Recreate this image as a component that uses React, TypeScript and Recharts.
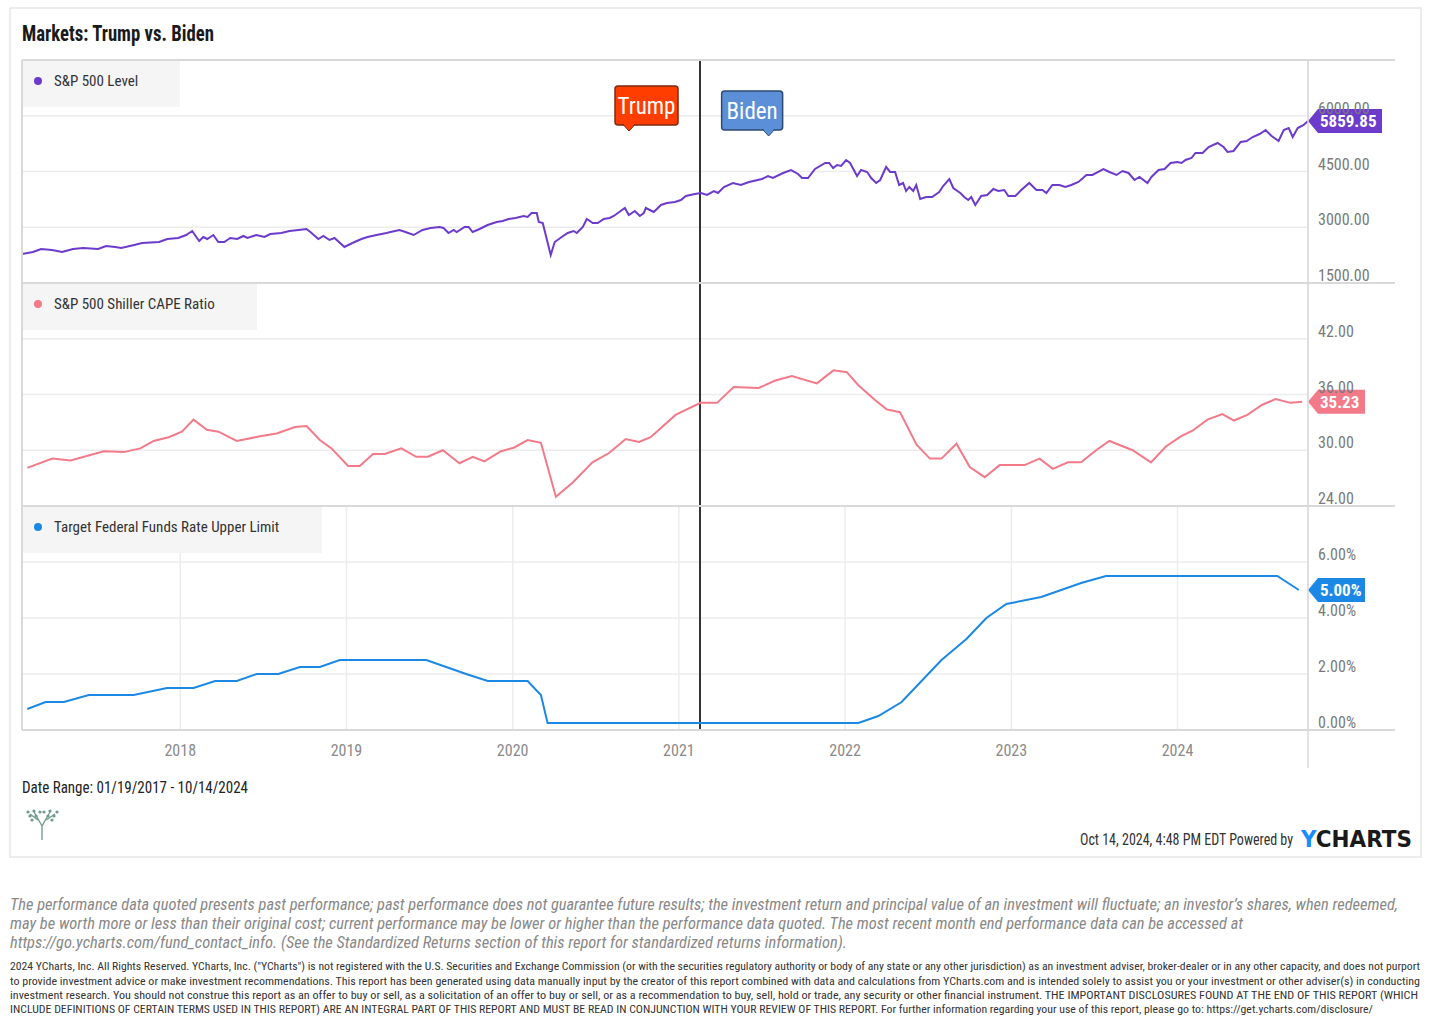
import React from "react";
import { LineChart, Line, XAxis, YAxis, CartesianGrid, ReferenceLine, ReferenceDot } from "recharts";

const FONT = "'Liberation Sans Narrow', 'Roboto Condensed', 'DejaVu Sans Condensed', 'Arial Narrow', sans-serif";

const X_START = 2017.048;
const X_END = 2024.785;
const YEAR_TICKS = [2018, 2019, 2020, 2021, 2022, 2023, 2024];
const BIDEN_DATE = 2021.127;

const SP_DATES = [
  2017.048, 2017.114, 2017.163, 2017.229, 2017.289, 2017.355, 2017.416, 2017.506, 2017.554, 2017.608,
  2017.645, 2017.723, 2017.771, 2017.873, 2017.922, 2017.988, 2018.036, 2018.072, 2018.114, 2018.139,
  2018.163, 2018.199, 2018.229, 2018.265, 2018.301, 2018.343, 2018.38, 2018.404, 2018.458, 2018.506,
  2018.542, 2018.608, 2018.657, 2018.711, 2018.759, 2018.783, 2018.831, 2018.861, 2018.898, 2018.928,
  2018.988, 2019.036, 2019.09, 2019.127, 2019.181, 2019.241, 2019.265, 2019.319, 2019.355, 2019.404,
  2019.458, 2019.506, 2019.56, 2019.584, 2019.614, 2019.645, 2019.663, 2019.711, 2019.735, 2019.759,
  2019.801, 2019.849, 2019.904, 2019.94, 2019.976, 2020.018, 2020.066, 2020.09, 2020.114, 2020.145,
  2020.157, 2020.181, 2020.229, 2020.253, 2020.295, 2020.331, 2020.367, 2020.386, 2020.422, 2020.446,
  2020.482, 2020.512, 2020.548, 2020.584, 2020.608, 2020.675, 2020.699, 2020.735, 2020.765, 2020.789,
  2020.801, 2020.837, 2020.849, 2020.892, 2020.928, 2020.976, 2021.012, 2021.042, 2021.096, 2021.133,
  2021.169, 2021.211, 2021.235, 2021.271, 2021.325, 2021.373, 2021.422, 2021.5, 2021.536, 2021.566,
  2021.627, 2021.675, 2021.717, 2021.741, 2021.777, 2021.819, 2021.88, 2021.904, 2021.928, 2021.952,
  2021.976, 2022.006, 2022.03, 2022.072, 2022.096, 2022.133, 2022.157, 2022.187, 2022.211, 2022.247,
  2022.271, 2022.301, 2022.325, 2022.349, 2022.367, 2022.386, 2022.41, 2022.428, 2022.452, 2022.488,
  2022.524, 2022.566, 2022.59, 2022.627, 2022.651, 2022.693, 2022.717, 2022.741, 2022.759, 2022.783,
  2022.819, 2022.855, 2022.892, 2022.922, 2022.958, 2022.982, 2023.024, 2023.06, 2023.108, 2023.151,
  2023.187, 2023.211, 2023.247, 2023.289, 2023.325, 2023.361, 2023.404, 2023.452, 2023.488, 2023.554,
  2023.59, 2023.633, 2023.669, 2023.705, 2023.741, 2023.771, 2023.819, 2023.843, 2023.886, 2023.922,
  2023.958, 2024.0, 2024.024, 2024.048, 2024.084, 2024.108, 2024.151, 2024.187, 2024.241, 2024.277,
  2024.301, 2024.337, 2024.38, 2024.416, 2024.452, 2024.494, 2024.53, 2024.566, 2024.608, 2024.639,
  2024.669, 2024.693, 2024.723, 2024.759, 2024.785,
];
const SP_VALUES = [
  2280, 2334, 2415, 2388, 2334, 2415, 2442, 2415, 2496, 2469,
  2442, 2522, 2576, 2603, 2684, 2711, 2791, 2899, 2630, 2738,
  2684, 2791, 2603, 2603, 2711, 2684, 2765, 2711, 2791, 2738,
  2818, 2845, 2899, 2926, 2953, 2872, 2684, 2765, 2657, 2711,
  2469, 2576, 2684, 2738, 2791, 2845, 2872, 2926, 2872, 2791,
  2926, 2980, 3007, 2980, 2845, 2926, 2872, 3007, 3007, 2872,
  2953, 3061, 3141, 3168, 3222, 3249, 3303, 3276, 3383, 3383,
  3141, 3114, 2253, 2603, 2738, 2845, 2899, 2845, 3007, 3222,
  3114, 3114, 3222, 3249, 3303, 3518, 3330, 3437, 3303, 3383,
  3518, 3437, 3410, 3599, 3652, 3679, 3733, 3841, 3895, 3922,
  3868, 3975, 3922, 4083, 4191, 4137, 4218, 4298, 4379, 4325,
  4460, 4540, 4433, 4325, 4325, 4567, 4729, 4729, 4594, 4675,
  4648, 4809, 4729, 4379, 4540, 4487, 4325, 4191, 4271, 4621,
  4487, 4487, 4137, 4191, 3975, 4083, 3975, 4137, 3760, 3814,
  3814, 3949, 4110, 4298, 4056, 3922, 3814, 3733, 3814, 3599,
  3841, 3868, 4029, 3975, 4002, 3841, 3841, 4002, 4191, 4002,
  4002, 3922, 4137, 4137, 4083, 4137, 4218, 4406, 4406, 4567,
  4487, 4406, 4513, 4460, 4271, 4352, 4191, 4352, 4540, 4567,
  4729, 4756, 4729, 4809, 4863, 4998, 4998, 5159, 5267, 5159,
  5025, 5052, 5294, 5321, 5428, 5509, 5617, 5455, 5321, 5617,
  5670, 5428, 5670, 5751, 5859.85,
];

const CAPE_DATES = [
  2017.08, 2017.23, 2017.34, 2017.54, 2017.66, 2017.76, 2017.84, 2017.93,
  2018.01, 2018.08, 2018.16, 2018.23, 2018.34, 2018.48, 2018.58, 2018.69, 2018.76, 2018.84, 2018.91,
  2019.01, 2019.08, 2019.16, 2019.23, 2019.33, 2019.42, 2019.49, 2019.58, 2019.68, 2019.76, 2019.83, 2019.93,
  2020.01, 2020.09, 2020.17, 2020.26, 2020.36, 2020.48, 2020.58, 2020.68, 2020.76, 2020.83, 2020.98,
  2021.13, 2021.23, 2021.33, 2021.48, 2021.58, 2021.68, 2021.83, 2021.93,
  2022.01, 2022.08, 2022.18, 2022.25, 2022.33, 2022.43, 2022.51, 2022.58, 2022.67, 2022.75, 2022.84, 2022.93,
  2023.08, 2023.17, 2023.25, 2023.34, 2023.42, 2023.51, 2023.59, 2023.73, 2023.84, 2023.93,
  2024.02, 2024.09, 2024.18, 2024.27, 2024.34, 2024.42, 2024.51, 2024.59, 2024.68, 2024.75,
];
const CAPE_VALUES = [
  28.1, 29.1, 28.9, 29.9, 29.8, 30.2, 31.0, 31.4,
  32.0, 33.3, 32.2, 32.0, 31.0, 31.5, 31.8, 32.5, 32.6, 31.1, 30.2,
  28.3, 28.3, 29.6, 29.6, 30.2, 29.3, 29.3, 30.0, 28.6, 29.3, 28.8, 29.9,
  30.3, 31.1, 30.8, 25.0, 26.5, 28.7, 29.7, 31.2, 30.9, 31.4, 33.8,
  35.1, 35.1, 36.8, 36.7, 37.5, 38.0, 37.2, 38.6,
  38.4, 37.0, 35.4, 34.4, 34.1, 30.6, 29.1, 29.1, 30.7, 28.2, 27.1, 28.4,
  28.4, 29.1, 28.0, 28.7, 28.7, 30.0, 31.0, 30.0, 28.7, 30.4,
  31.5, 32.1, 33.3, 33.9, 33.2, 33.8, 34.9, 35.5, 35.1, 35.23,
];

const FED_DATES = [
  2017.08, 2017.19, 2017.3, 2017.45, 2017.72, 2017.92, 2018.08, 2018.21, 2018.34, 2018.46,
  2018.59, 2018.72, 2018.84, 2018.96, 2019.48, 2019.6, 2019.72, 2019.85, 2020.09, 2020.17,
  2020.21, 2022.08, 2022.2, 2022.34, 2022.46, 2022.58, 2022.73, 2022.85, 2022.97, 2023.18,
  2023.3, 2023.42, 2023.57, 2024.6, 2024.73,
];
const FED_VALUES = [
  0.75, 1.0, 1.0, 1.25, 1.25, 1.5, 1.5, 1.75, 1.75, 2.0,
  2.0, 2.25, 2.25, 2.5, 2.5, 2.25, 2.0, 1.75, 1.75, 1.25,
  0.25, 0.25, 0.5, 1.0, 1.75, 2.5, 3.25, 4.0, 4.5, 4.75,
  5.0, 5.25, 5.5, 5.5, 5.0,
];

const SP_TICKS = [1500, 3000, 4500, 6000];
const CAPE_TICKS = [24, 30, 36, 42];
const FED_TICKS = [0, 2, 4, 6];

const spData = SP_DATES.map((t, i) => ({ t, v: SP_VALUES[i] }));
const capeData = CAPE_DATES.map((t, i) => ({ t, v: CAPE_VALUES[i] }));
const fedData = FED_DATES.map((t, i) => ({ t, v: FED_VALUES[i] }));

const PURPLE = "#6c3bcc";
const PINK = "#f27a89";
const BLUE = "#1c88e6";
const GRID = "#ececec";
const BORDER = "#d9d9d9";

const makeTick = (fmt: (v: number) => string) => (props: any) => (
  <text x={props.x} y={props.y - 2} fill="#7a7a7a" fontSize={16} fontFamily={FONT} textAnchor="start">
    {fmt(props.payload.value)}
  </text>
);

const Tag = (props: any) => {
  const { cx, cy, text, w, fill } = props;
  return (
    <g>
      <polygon
        points={`${cx},${cy} ${cx + 10},${cy - 12} ${cx + w},${cy - 12} ${cx + w},${cy + 12} ${cx + 10},${cy + 12}`}
        fill={fill}
      />
      <text x={cx + 12} y={cy + 6} fill="#fff" fontSize={17} fontWeight="bold" fontFamily={FONT}>
        {text}
      </text>
    </g>
  );
};

const Callout = (props: any) => {
  const { cx, cy, text, left, width, fill, stroke } = props;
  const x0 = cx - left;
  const top = cy - 45;
  const h = 39;
  return (
    <g>
      <rect x={x0} y={top} width={width} height={h} rx={3} fill={fill} stroke={stroke} strokeWidth={1.5} />
      <polygon points={`${cx - 6},${top + h - 0.5} ${cx + 6},${top + h - 0.5} ${cx},${cy}`} fill={fill} stroke={stroke} strokeWidth={1} />
      <rect x={cx - 5} y={top + h - 3} width={10} height={3} fill={fill} />
      <text x={x0 + width / 2} y={top + 28} fill="#fff" fontSize={23} fontFamily={FONT} textAnchor="middle">
        {text}
      </text>
    </g>
  );
};

const xAxisHidden = (
  <XAxis
    type="number"
    dataKey="t"
    domain={[X_START, X_END]}
    ticks={YEAR_TICKS}
    allowDataOverflow
    height={0}
    tick={false}
    axisLine={false}
    tickLine={false}
  />
);

const Panel = ({
  data,
  domain,
  ticks,
  fmt,
  color,
  height,
  showX,
  tagText,
  tagW,
  children,
}: any) => (
  <LineChart width={1450} height={height} data={data} margin={{ top: 0, right: 55, bottom: 0, left: 22 }}>
    <CartesianGrid stroke={GRID} strokeWidth={1.5} />
    {showX ? (
      <XAxis
        type="number"
        dataKey="t"
        domain={[X_START, X_END]}
        ticks={YEAR_TICKS}
        interval={0}
        allowDataOverflow
        height={40}
        axisLine={false}
        tickLine={false}
        tickSize={0}
        tickMargin={15}
        tick={{ fill: "#8a8a8a", fontSize: 16, fontFamily: FONT }}
      />
    ) : (
      xAxisHidden
    )}
    <YAxis
      orientation="right"
      width={87}
      domain={domain}
      ticks={ticks}
      interval={0}
      allowDataOverflow
      axisLine={false}
      tickLine={false}
      tickSize={0}
      tickMargin={10}
      tick={makeTick(fmt)}
    />
    <ReferenceLine x={BIDEN_DATE} stroke="#333" strokeWidth={2} />
    <Line type="linear" dataKey="v" stroke={color} strokeWidth={2} dot={false} isAnimationActive={false} />
    {children}
    <ReferenceDot
      x={X_END}
      y={data[data.length - 1].v}
      ifOverflow="visible"
      shape={(p: any) => <Tag {...p} text={tagText} w={tagW} fill={color} />}
    />
  </LineChart>
);

const LegendBox = ({ top, width, color, label }: any) => (
  <div
    style={{
      position: "absolute",
      left: 23,
      top,
      width,
      height: 46,
      background: "#f5f5f5",
      fontFamily: FONT,
      fontSize: 15,
      color: "#333",
    }}
  >
    <div style={{ position: "absolute", left: 11, top: 16, width: 8, height: 8, borderRadius: 4, background: color }} />
    <div style={{ position: "absolute", left: 31, top: 11, whiteSpace: "nowrap" }}>{label}</div>
  </div>
);

const ITALIC_LINES = [
  { t: "The performance data quoted presents past performance; past performance does not guarantee future results; the investment return and principal value of an investment will fluctuate; an investor’s shares, when redeemed,", w: 1388, y: 910 },
  { t: "may be worth more or less than their original cost; current performance may be lower or higher than the performance data quoted.  The most recent month end performance data can be accessed at", w: 1233, y: 929 },
  { t: "https://go.ycharts.com/fund_contact_info. (See the Standardized Returns section of this report for standardized returns information).", w: 837, y: 948 },
];
const SMALL_LINES = [
  { t: "2024 YCharts, Inc. All Rights Reserved. YCharts, Inc. (\"YCharts\") is not registered with the U.S. Securities and Exchange Commission (or with the securities regulatory authority or body of any state or any other jurisdiction) as an investment adviser, broker-dealer or in any other capacity, and does not purport", w: 1410, y: 970 },
  { t: "to provide investment advice or make investment recommendations. This report has been generated using data manually input by the creator of this report combined with data and calculations from YCharts.com and is intended solely to assist you or your investment or other adviser(s) in conducting", w: 1410, y: 985 },
  { t: "investment research. You should not construe this report as an offer to buy or sell, as a solicitation of an offer to buy or sell, or as a recommendation to buy, sell, hold or trade, any security or other financial instrument. THE IMPORTANT DISCLOSURES FOUND AT THE END OF THIS REPORT (WHICH", w: 1408, y: 999 },
  { t: "INCLUDE DEFINITIONS OF CERTAIN TERMS USED IN THIS REPORT) ARE AN INTEGRAL PART OF THIS REPORT AND MUST BE READ IN CONJUNCTION WITH YOUR REVIEW OF THIS REPORT. For further information regarding your use of this report, please go to: https://get.ycharts.com/disclosure/", w: 1363, y: 1013 },
];

export default function App() {
  return (
    <div style={{ position: "absolute", left: 0, top: 0, width: 1450, height: 1020, background: "#fff", fontFamily: FONT, overflow: "hidden" }}>
      <svg width={1450} height={1020} style={{ position: "absolute", left: 0, top: 0 }}>
        <rect x={10} y={8} width={1411} height={849} fill="#fff" stroke="#e6e6e6" strokeWidth={1.5} />
        <text x={22} y={41} fontSize={22} fontWeight="bold" fill="#1a1a1a" fontFamily={FONT} textLength={192} lengthAdjust="spacingAndGlyphs">
          Markets: Trump vs. Biden
        </text>
        <text x={22} y={793} fontSize={16} fill="#222" fontFamily={FONT} textLength={226} lengthAdjust="spacingAndGlyphs">
          Date Range: 01/19/2017 - 10/14/2024
        </text>
        <g stroke="#6f9a8a" strokeWidth={1.3} fill="none">
          <path d="M42 840 L42 826 L34 812" />
          <path d="M42 826 L50 812" />
          <path d="M38 820 L30 814" />
          <path d="M46 820 L55 814" />
        </g>
        <g fill="#6f9a8a">
          {[[34, 811], [30, 816], [28, 812], [36, 816], [50, 811], [54, 816], [57, 812], [48, 816], [32, 820], [52, 820], [40, 812], [44, 812]].map((p, i) => (
            <circle key={i} cx={p[0]} cy={p[1]} r={1.6} />
          ))}
        </g>
        <text x={1080} y={845} fontSize={16} fill="#333" fontFamily={FONT} textLength={213} lengthAdjust="spacingAndGlyphs">
          Oct 14, 2024, 4:48 PM EDT Powered by
        </text>
        <text x={1301} y={847} fontSize={23} fontWeight="bold" fill="#1a1a1a" fontFamily="'DejaVu Sans', sans-serif" textLength={111} lengthAdjust="spacingAndGlyphs">
          <tspan fill="#1a8cff">Y</tspan>CHARTS
        </text>
        {ITALIC_LINES.map((l, i) => (
          <text key={i} x={10} y={l.y} fontSize={16} fontStyle="italic" fill="#888" fontFamily={FONT} textLength={l.w} lengthAdjust="spacingAndGlyphs">
            {l.t}
          </text>
        ))}
        {SMALL_LINES.map((l, i) => (
          <text key={i} x={10} y={l.y} fontSize={11} fill="#333" fontFamily={FONT} textLength={l.w} lengthAdjust="spacingAndGlyphs">
            {l.t}
          </text>
        ))}
      </svg>

      <div style={{ position: "absolute", left: 0, top: 60 }}>
        <Panel data={spData} domain={[1500, 7500]} ticks={SP_TICKS} fmt={(v: number) => v.toFixed(2)} color={PURPLE} height={223} tagText="5859.85" tagW={74}>
          <ReferenceDot
            x={2020.7}
            y={5589}
            ifOverflow="visible"
            shape={(p: any) => <Callout {...p} text="Trump" left={14} width={63} fill="#ff3d00" stroke="#7a2a12" />}
          />
          <ReferenceDot
            x={2021.54}
            y={5455}
            ifOverflow="visible"
            shape={(p: any) => <Callout {...p} text="Biden" left={47} width={61} fill="#5b8fd8" stroke="#2e4a70" />}
          />
        </Panel>
      </div>
      <div style={{ position: "absolute", left: 0, top: 283 }}>
        <Panel data={capeData} domain={[24, 48]} ticks={CAPE_TICKS} fmt={(v: number) => v.toFixed(2)} color={PINK} height={223} tagText="35.23" tagW={57} />
      </div>
      <div style={{ position: "absolute", left: 0, top: 506 }}>
        <Panel data={fedData} domain={[0, 8]} ticks={FED_TICKS} fmt={(v: number) => v.toFixed(2) + "%"} color={BLUE} height={264} showX tagText="5.00%" tagW={57} />
      </div>

      <svg width={1450} height={1020} style={{ position: "absolute", left: 0, top: 0, pointerEvents: "none" }}>
        <line x1={22} y1={60} x2={1395} y2={60} stroke={BORDER} strokeWidth={2} />
        <line x1={22} y1={283} x2={1395} y2={283} stroke={BORDER} strokeWidth={2} />
        <line x1={22} y1={506} x2={1395} y2={506} stroke={BORDER} strokeWidth={2} />
        <line x1={22} y1={730} x2={1395} y2={730} stroke={BORDER} strokeWidth={2} />
        <line x1={22} y1={60} x2={22} y2={730} stroke={BORDER} strokeWidth={2} />
        <line x1={1308} y1={60} x2={1308} y2={768} stroke={BORDER} strokeWidth={1.5} />
      </svg>
      <LegendBox top={61} width={157} color={PURPLE} label="S&P 500 Level" />
      <LegendBox top={284} width={234} color={PINK} label="S&P 500 Shiller CAPE Ratio" />
      <LegendBox top={507} width={299} color={BLUE} label="Target Federal Funds Rate Upper Limit" />
    </div>
  );
}
